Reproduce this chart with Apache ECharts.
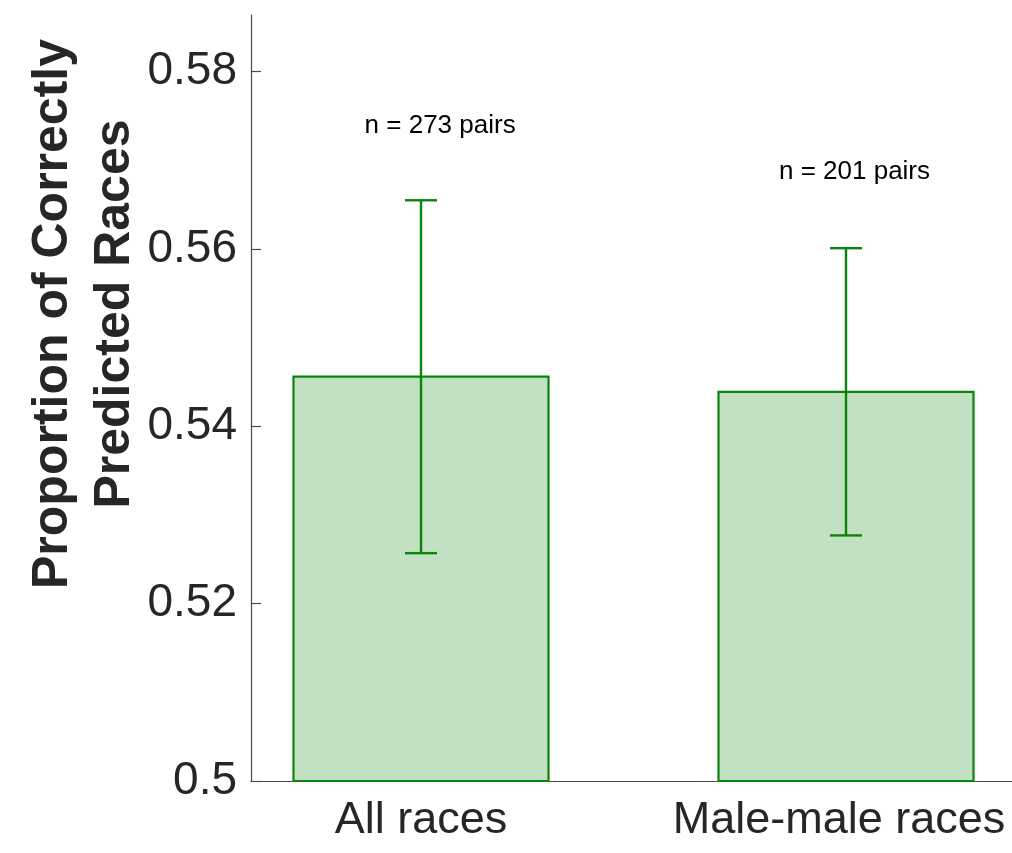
<!DOCTYPE html>
<html>
<head>
<meta charset="utf-8">
<script src="https://cdn.jsdelivr.net/npm/echarts@6/dist/echarts.min.js"></script>
<style>html,body{margin:0;padding:0;background:#fff;}#c{width:1012px;height:853px;}</style>
</head>
<body>
<div id="c"></div>
<script>
var categories = ['All races', 'Male-male races'];
var categoryX = [1, 2];
var means = [0.5456, 0.5439];
var errors = [0.0199, 0.0162];
var annotations = ['n = 273 pairs', 'n = 201 pairs'];
var annotationX = [1.045, 2.02];
var annotationY = [0.5739, 0.5687];
var yTicks = [0.5, 0.52, 0.54, 0.56, 0.58];

var FONT = 'Liberation Sans, Arial, Helvetica, sans-serif';
var GREEN = '#0a850a';
var AXIS = '#4a4a4a';
var TEXT = '#262626';

var barData = categoryX.map(function (x, i) { return [x, means[i]]; });
var errData = categoryX.map(function (x, i) { return [x, means[i] - errors[i], means[i] + errors[i]]; });
var annData = annotationX.map(function (x, i) { return [x, annotationY[i], annotations[i]]; });

var chart = echarts.init(document.getElementById('c'), null, {renderer: 'canvas'});
chart.setOption({
  animation: false,
  backgroundColor: '#ffffff',
  grid: {left: 251, top: 15, width: 765, height: 766, containLabel: false, outerBoundsMode: 'none'},
  xAxis: {
    type: 'value', min: 0.6, max: 2.4,
    splitLine: {show: false},
    axisLine: {show: true, lineStyle: {color: AXIS, width: 1.2}},
    axisTick: {show: false},
    axisLabel: {
      customValues: categoryX,
      margin: 17,
      color: TEXT, fontSize: 45, fontFamily: FONT,
      formatter: function (v) {
        var i = categoryX.indexOf(Math.round(v));
        if (i < 0) return '';
        return i === categoryX.length - 1 ? '{last|' + categories[i] + '}' : categories[i];
      },
      rich: {
        last: {color: TEXT, fontSize: 45, fontFamily: FONT, padding: [0, 14, 0, 0]}
      }
    }
  },
  yAxis: {
    type: 'value', min: 0.5, max: 0.5864, interval: 0.02,
    splitLine: {show: false},
    axisLine: {show: true, lineStyle: {color: AXIS, width: 1.2}},
    axisTick: {show: true, inside: true, length: 10, lineStyle: {color: AXIS, width: 1.2}},
    axisLabel: {
      margin: 14, color: TEXT, fontSize: 46, fontFamily: FONT, showMaxLabel: false,
      formatter: function (v) {
        for (var i = 0; i < yTicks.length; i++) { if (Math.abs(v - yTicks[i]) < 1e-6) return String(yTicks[i]); }
        return '';
      }
    }
  },
  graphic: [{
    type: 'text',
    x: 84, y: 314,
    rotation: Math.PI / 2,
    style: {
      text: 'Proportion of Correctly\nPredicted Races',
      fontFamily: FONT, fontWeight: 'bold', fontSize: 50, lineHeight: 62,
      fill: TEXT, align: 'center', verticalAlign: 'middle'
    }
  }],
  series: [
    {
      type: 'custom',
      data: barData,
      encode: {x: 0, y: 1},
      renderItem: function (params, api) {
        var x = api.value(0), y = api.value(1);
        var p0 = api.coord([x - 0.3, y]);
        var p1 = api.coord([x + 0.3, 0.5]);
        return {
          type: 'rect',
          shape: {x: p0[0], y: p0[1], width: p1[0] - p0[0], height: p1[1] - p0[1]},
          style: {fill: 'rgba(0,128,0,0.24)', stroke: GREEN, lineWidth: 2.2}
        };
      },
      z: 2
    },
    {
      type: 'custom',
      data: errData,
      encode: {x: 0, y: [1, 2]},
      renderItem: function (params, api) {
        var x = api.value(0);
        var lo = api.coord([x, api.value(1)]);
        var hi = api.coord([x, api.value(2)]);
        var hw = 16;
        var st = {stroke: GREEN, lineWidth: 2.4, fill: null};
        return {
          type: 'group',
          children: [
            {type: 'line', shape: {x1: lo[0], y1: lo[1], x2: hi[0], y2: hi[1]}, style: st},
            {type: 'line', shape: {x1: lo[0] - hw, y1: lo[1], x2: lo[0] + hw, y2: lo[1]}, style: st},
            {type: 'line', shape: {x1: hi[0] - hw, y1: hi[1], x2: hi[0] + hw, y2: hi[1]}, style: st}
          ]
        };
      },
      z: 3
    },
    {
      type: 'custom',
      data: annData,
      encode: {x: 0, y: 1},
      renderItem: function (params, api) {
        var p = api.coord([api.value(0), api.value(1)]);
        return {
          type: 'text',
          x: p[0], y: p[1],
          style: {text: annData[params.dataIndex][2], fontFamily: FONT, fontSize: 26, fill: '#000', align: 'center', verticalAlign: 'middle'}
        };
      },
      z: 4
    }
  ]
});
</script>
</body>
</html>
